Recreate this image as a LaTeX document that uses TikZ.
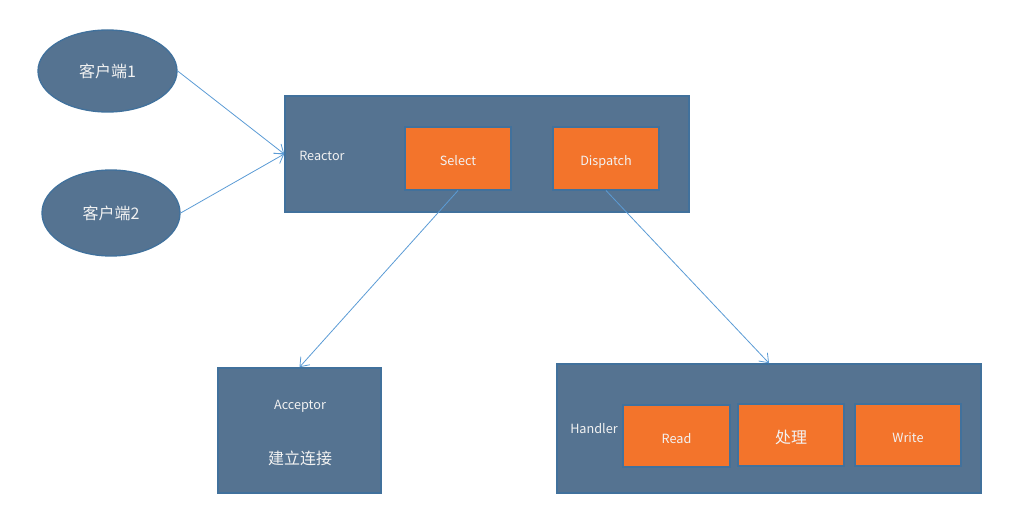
\documentclass[tikz,border=0pt]{standalone}
\usepackage{fontspec}
\setmainfont{Noto Sans CJK SC}
\usetikzlibrary{arrows.meta,shapes.geometric}
\definecolor{kastenblau}{RGB}{85,115,145}
\definecolor{randblau}{RGB}{65,113,156}
\definecolor{kastenorange}{RGB}{243,116,43}
\definecolor{pfeilblau}{RGB}{91,155,213}
\definecolor{schrift}{RGB}{242,242,242}
\tikzset{
  kasten/.style={rectangle, draw=randblau, fill=kastenblau, line width=1.2pt, inner sep=0pt},
  innen/.style={rectangle, draw=randblau, fill=kastenorange, line width=1.5pt, inner sep=0pt,
    minimum width=80pt, minimum height=46.5pt, text height=11pt, text depth=0pt,
    text=schrift, font=\fontsize{9.5}{11}\selectfont},
  kunde/.style={ellipse, draw=randblau, fill=kastenblau, line width=1pt, inner sep=0pt,
    text=schrift, font=\fontsize{12}{14}\selectfont},
  beschr/.style={text=schrift, font=\fontsize{9.5}{11}\selectfont, inner sep=0pt},
  pfeil/.style={draw=pfeilblau, line width=0.6pt, -{Straight Barb[length=6pt,width=9pt]}}
}
\begin{document}
\begin{tikzpicture}[x=0.75pt,y=-0.75pt]
\useasboundingbox (0,0) rectangle (1013,524);
% Clients
\node[kunde, minimum width=104.25pt, minimum height=61.5pt] (k1) at (107.5,71) {客户端1};
\node[kunde, minimum width=103.5pt, minimum height=64.5pt] (k2) at (111,213) {客户端2};
% Kaesten
\node[kasten, minimum width=303pt, minimum height=87pt] (reactor) at (487,154) {};
\node[kasten, minimum width=122.25pt, minimum height=93.75pt] (acceptor) at (299.5,430.5) {};
\node[kasten, minimum width=318pt, minimum height=96.75pt] (handler) at (769,428.5) {};
\node[innen] (select) at (458,158.5) {Select};
\node[innen] (dispatch) at (606,158.5) {Dispatch};
\node[innen] (read) at (676.5,436) {Read};
\node[innen, font=\fontsize{12}{14}\selectfont, text height=13pt] (proc) at (791,435) {处理};
\node[innen] (write) at (908,435) {Write};
% Beschriftungen
\node[beschr, anchor=west] (lreactor) at (299,156) {Reactor};
\node[beschr, anchor=west] (lhandler) at (570,429) {Handler};
\node[beschr] (lacceptor) at (300,406) {Acceptor};
\node[beschr, font=\fontsize{12}{14}\selectfont] (lconn) at (300,458) {建立连接};
% Pfeile
\draw[pfeil] (k1.east) -- (reactor.west);
\draw[pfeil] (k2.east) -- (reactor.west);
\draw[pfeil] (select.south) -- (acceptor.north);
\draw[pfeil] (dispatch.south) -- (handler.north);
\end{tikzpicture}
\end{document}
